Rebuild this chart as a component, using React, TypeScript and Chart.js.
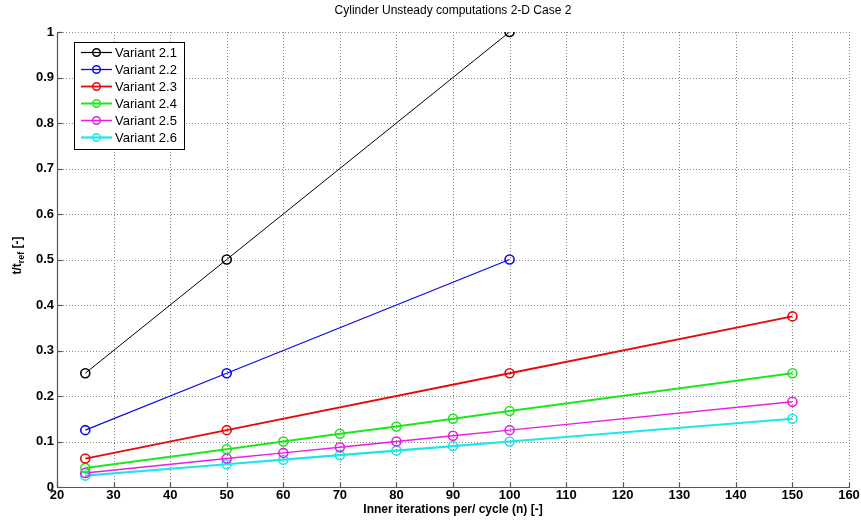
import React, { useEffect, useRef } from "react";
import { Chart, registerables } from "chart.js";

Chart.register(...registerables);

const chartTitle = "Cylinder Unsteady computations 2-D Case 2";
const xAxisTitle = "Inner iterations per/ cycle (n) [-]";
const yAxisTitleMain = "t/t";
const yAxisTitleSub = "ref";
const yAxisTitleTail = " [-]";

const xTicks = [20, 30, 40, 50, 60, 70, 80, 90, 100, 110, 120, 130, 140, 150, 160];
const xTickLabels = ["20", "30", "40", "50", "60", "70", "80", "90", "100", "110", "120", "130", "140", "150", "160"];
const yTicks = [0, 0.1, 0.2, 0.3, 0.4, 0.5, 0.6, 0.7, 0.8, 0.9, 1];
const yTickLabels = ["0", "0.1", "0.2", "0.3", "0.4", "0.5", "0.6", "0.7", "0.8", "0.9", "1"];

const seriesNames = ["Variant 2.1", "Variant 2.2", "Variant 2.3", "Variant 2.4", "Variant 2.5", "Variant 2.6"];

const xV21 = [25, 50, 100];
const yV21 = [0.25, 0.5, 1.0];
const xV22 = [25, 50, 100];
const yV22 = [0.125, 0.25, 0.5];
const xV23 = [25, 50, 100, 150];
const yV23 = [0.0625, 0.125, 0.25, 0.375];
const xV24 = [25, 50, 60, 70, 80, 90, 100, 150];
const yV24 = [0.042, 0.083, 0.1, 0.117, 0.133, 0.15, 0.167, 0.25];
const xV25 = [25, 50, 60, 70, 80, 90, 100, 150];
const yV25 = [0.031, 0.0625, 0.075, 0.0875, 0.1, 0.1125, 0.125, 0.1875];
const xV26 = [25, 50, 60, 70, 80, 90, 100, 150];
const yV26 = [0.025, 0.05, 0.06, 0.07, 0.08, 0.09, 0.1, 0.15];

const seriesX = [xV21, xV22, xV23, xV24, xV25, xV26];
const seriesY = [yV21, yV22, yV23, yV24, yV25, yV26];
const seriesColors = ["#000000", "#0a0ae6", "#e60a0a", "#1ee61e", "#e61ee6", "#1ee6e6"];
const seriesWidths = [1, 1.3, 1.8, 2, 1.5, 2.2];

const FONT = "'Liberation Sans', Arial, Helvetica, sans-serif";

const customPlugin = {
  id: "matlabStyle",
  beforeDatasetsDraw(chart: any) {
    const { ctx, chartArea, scales } = chart;
    const xs = scales.x;
    const ys = scales.y;
    ctx.save();
    ctx.strokeStyle = "#8a8a8a";
    ctx.lineWidth = 1;
    ctx.setLineDash([1, 2]);
    xTicks.forEach((v) => {
      if (v === xTicks[0]) return;
      const px = Math.round(xs.getPixelForValue(v)) + 0.5;
      ctx.beginPath();
      ctx.moveTo(px, chartArea.top);
      ctx.lineTo(px, chartArea.bottom);
      ctx.stroke();
    });
    yTicks.forEach((v) => {
      if (v === yTicks[0]) return;
      const py = Math.round(ys.getPixelForValue(v)) + 0.5;
      ctx.beginPath();
      ctx.moveTo(chartArea.left, py);
      ctx.lineTo(chartArea.right, py);
      ctx.stroke();
    });
    ctx.restore();
  },
  afterDatasetsDraw(chart: any) {
    const { ctx, chartArea, scales } = chart;
    const xs = scales.x;
    const ys = scales.y;
    ctx.save();
    ctx.setLineDash([]);
    ctx.strokeStyle = "#555555";
    ctx.lineWidth = 1.2;
    const left = Math.round(chartArea.left) + 0.5;
    const bottom = Math.round(chartArea.bottom) + 0.5;
    ctx.beginPath();
    ctx.moveTo(left, Math.round(chartArea.top));
    ctx.lineTo(left, bottom);
    ctx.lineTo(Math.round(chartArea.right) + 1, bottom);
    ctx.stroke();
    const tl = 5;
    xTicks.forEach((v) => {
      const px = Math.round(xs.getPixelForValue(v)) + 0.5;
      ctx.beginPath();
      ctx.moveTo(px, bottom);
      ctx.lineTo(px, bottom - tl);
      ctx.stroke();
    });
    yTicks.forEach((v) => {
      const py = Math.round(ys.getPixelForValue(v)) + 0.5;
      ctx.beginPath();
      ctx.moveTo(left, py);
      ctx.lineTo(left + tl, py);
      ctx.stroke();
    });

    // legend
    const lx = 74, ly = 42, lw = 110, lh = 107;
    ctx.fillStyle = "#ffffff";
    ctx.fillRect(lx, ly, lw, lh);
    ctx.strokeStyle = "#000000";
    ctx.lineWidth = 1;
    ctx.strokeRect(lx + 0.5, ly + 0.5, lw, lh);
    ctx.font = `13px ${FONT}`;
    ctx.textBaseline = "middle";
    ctx.textAlign = "left";
    seriesNames.forEach((name, i) => {
      const cy = ly + 10.5 + i * 17;
      ctx.strokeStyle = seriesColors[i];
      ctx.lineWidth = Math.max(1.2, seriesWidths[i]);
      ctx.beginPath();
      ctx.moveTo(81, cy);
      ctx.lineTo(112, cy);
      ctx.stroke();
      ctx.lineWidth = 1.5;
      ctx.beginPath();
      ctx.arc(96.5, cy, 3.8, 0, Math.PI * 2);
      ctx.stroke();
      ctx.fillStyle = "#000000";
      ctx.fillText(name, 115, cy + 0.5);
    });
    ctx.restore();
  },
  afterDraw(chart: any) {
    const { ctx, chartArea } = chart;
    ctx.save();
    ctx.fillStyle = "#000000";
    ctx.font = `12px ${FONT}`;
    ctx.textAlign = "center";
    ctx.textBaseline = "middle";
    const cx = (chartArea.left + chartArea.right) / 2;
    ctx.fillText(chartTitle, cx, 11);

    // y axis title with subscript
    const cy = (chartArea.top + chartArea.bottom) / 2 - 4;
    ctx.translate(17, cy);
    ctx.rotate(-Math.PI / 2);
    const mainFont = `bold 12px ${FONT}`;
    const subFont = `bold 9px ${FONT}`;
    ctx.font = mainFont;
    const w1 = ctx.measureText(yAxisTitleMain).width;
    const w3 = ctx.measureText(yAxisTitleTail).width;
    ctx.font = subFont;
    const w2 = ctx.measureText(yAxisTitleSub).width;
    const total = w1 + w2 + w3;
    let x = -total / 2;
    ctx.textAlign = "left";
    ctx.textBaseline = "alphabetic";
    ctx.font = mainFont;
    ctx.fillText(yAxisTitleMain, x, 4);
    x += w1;
    ctx.font = subFont;
    ctx.fillText(yAxisTitleSub, x, 7);
    x += w2;
    ctx.font = mainFont;
    ctx.fillText(yAxisTitleTail, x, 4);
    ctx.restore();
  },
};

export default function App() {
  const canvasRef = useRef<HTMLCanvasElement | null>(null);

  useEffect(() => {
    document.body.style.margin = "0";
    const canvas = canvasRef.current;
    if (!canvas) return;
    const datasets = seriesNames.map((name, i) => ({
      label: name,
      data: seriesX[i].map((xv, j) => ({ x: xv, y: seriesY[i][j] })),
      borderColor: seriesColors[i],
      backgroundColor: "rgba(0,0,0,0)",
      borderWidth: seriesWidths[i],
      pointRadius: 4.5,
      pointBorderWidth: 1.6,
      pointBorderColor: seriesColors[i],
      pointBackgroundColor: "rgba(0,0,0,0)",
      pointStyle: "circle",
      tension: 0,
      fill: false,
    }));
    const tickFont = { family: FONT, size: 13, weight: "bold" as const };
    const chart = new Chart(canvas, {
      type: "line",
      data: { datasets },
      plugins: [customPlugin],
      options: {
        responsive: false,
        animation: false,
        devicePixelRatio: 1,
        layout: { padding: { top: 32, right: 12, left: 0, bottom: 0 } },
        plugins: {
          legend: { display: false },
          title: { display: false },
          tooltip: { enabled: false },
        },
        scales: {
          x: {
            type: "linear",
            min: 20,
            max: 160,
            grid: { display: false, drawTicks: false },
            border: { display: false },
            afterBuildTicks: (s: any) => {
              s.ticks = xTicks.map((v) => ({ value: v }));
            },
            afterFit: (s: any) => {
              s.height = 34;
            },
            ticks: {
              color: "#000000",
              font: tickFont,
              padding: 1,
              maxRotation: 0,
              autoSkip: false,
              callback: (v: any) => {
                const i = xTicks.indexOf(Number(v));
                return i >= 0 ? xTickLabels[i] : "";
              },
            },
            title: {
              display: true,
              text: xAxisTitle,
              color: "#000000",
              font: { family: FONT, size: 12, weight: "bold" },
              padding: { top: 2, bottom: 4 },
            },
          },
          y: {
            type: "linear",
            min: 0,
            max: 1,
            grid: { display: false, drawTicks: false },
            border: { display: false },
            afterBuildTicks: (s: any) => {
              s.ticks = yTicks.map((v) => ({ value: v }));
            },
            afterFit: (s: any) => {
              s.width = 57;
            },
            ticks: {
              color: "#000000",
              font: tickFont,
              padding: 3,
              autoSkip: false,
              callback: (v: any) => {
                const i = yTicks.findIndex((t) => Math.abs(t - Number(v)) < 1e-9);
                return i >= 0 ? yTickLabels[i] : "";
              },
            },
          },
        },
      },
    });
    return () => chart.destroy();
  }, []);

  return (
    <div style={{ position: "fixed", left: 0, top: 0, width: 861, height: 521, background: "#ffffff" }}>
      <canvas ref={canvasRef} width={861} height={521} style={{ display: "block" }} />
    </div>
  );
}
